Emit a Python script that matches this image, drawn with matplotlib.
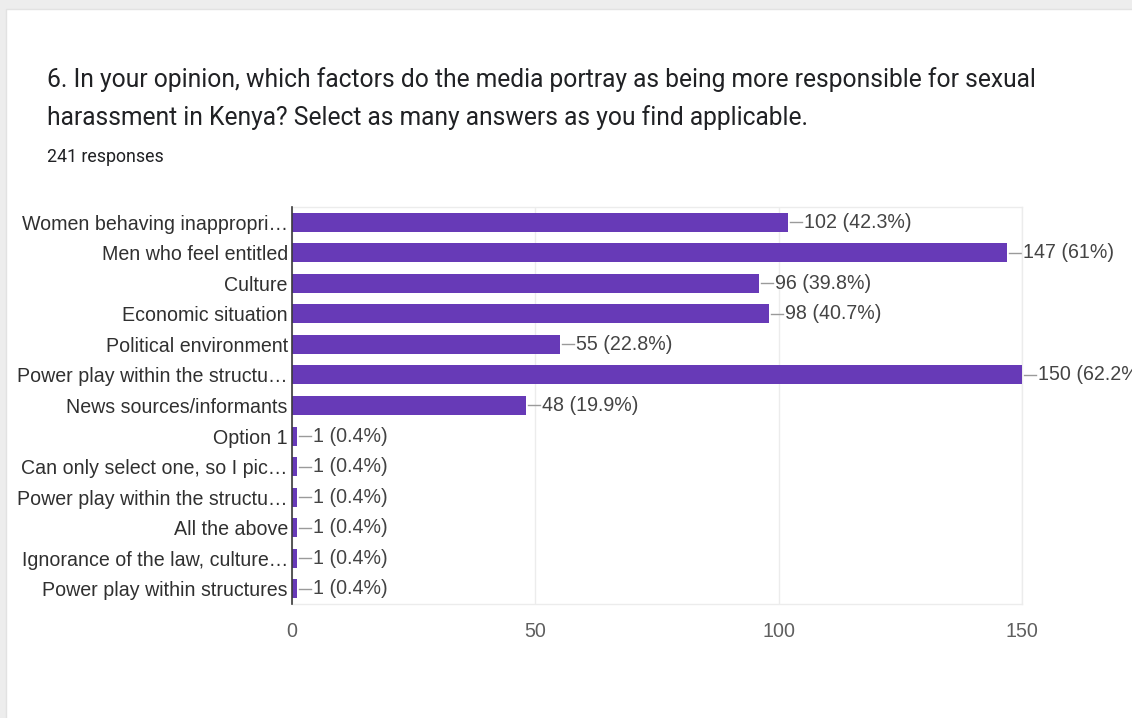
import matplotlib
matplotlib.use("Agg")
import matplotlib.pyplot as plt
from matplotlib.patches import Rectangle

# Survey answers (truncated as displayed) and response counts
categories = [
    "Women behaving inappropri\u2026",
    "Men who feel entitled",
    "Culture",
    "Economic situation",
    "Political environment",
    "Power play within the structu\u2026",
    "News sources/informants",
    "Option 1",
    "Can only select one, so I pic\u2026",
    "Power play within the structu\u2026",
    "All the above",
    "Ignorance of the law, culture\u2026",
    "Power play within structures",
]
counts = [102, 147, 96, 98, 55, 150, 48, 1, 1, 1, 1, 1, 1]
total_responses = 241
x_ticks = [0, 50, 100, 150]

title_lines = [
    "6. In your opinion, which factors do the media portray as being more responsible for sexual",
    "harassment in Kenya? Select as many answers as you find applicable.",
]
subtitle = f"{total_responses} responses"

W, H = 1132, 718
fig = plt.figure(figsize=(W / 100, H / 100), dpi=100)
fig.patch.set_facecolor("#ededed")

# white card behind everything
card = Rectangle((6 / W, -0.01), 1, 1.01 - 9 / H, transform=fig.transFigure,
                 facecolor="white", edgecolor="#e2e2e2", linewidth=1, zorder=-10)
fig.patches.append(card)


def fx(px):
    return px / W


def fy(py):
    return 1 - py / H


fig.text(fx(47), fy(80), title_lines[0], family="Roboto", fontsize=17.7,
         color="#202124", va="center", ha="left")
fig.text(fx(47), fy(118), title_lines[1], family="Roboto", fontsize=17.7,
         color="#202124", va="center", ha="left")
fig.text(fx(47), fy(157), subtitle, family="Roboto", fontsize=12.8,
         color="#202124", va="center", ha="left")

x0_px, x1_px = 292, 1022
ax = fig.add_axes([fx(x0_px), fy(604), (x1_px - x0_px) / W, (604 - 207) / H])
ax.set_facecolor("white")

purple = "#673ab7"
ypos = list(range(len(categories)))
ax.barh(ypos, counts, height=0.62, color=purple, zorder=3)

ax.set_xlim(0, 150)
ax.set_ylim(len(categories) - 0.5, -0.5)
ax.set_xticks(x_ticks)
ax.set_xticklabels([str(t) for t in x_ticks])
ax.set_yticks(ypos)
ax.set_yticklabels(categories)

label_family = "Liberation Sans"
label_size = 14.1
for lbl in ax.get_yticklabels():
    lbl.set_family(label_family)
    lbl.set_fontsize(label_size)
    lbl.set_color("#303030")
for lbl in ax.get_xticklabels():
    lbl.set_family(label_family)
    lbl.set_fontsize(label_size)
    lbl.set_color("#5f5f5f")

ax.tick_params(axis="both", length=0)
ax.tick_params(axis="y", pad=3)
ax.tick_params(axis="x", pad=13)

ax.grid(axis="x", color="#ececec", linewidth=1, zorder=0)
for side in ["top", "bottom", "right"]:
    ax.spines[side].set_color("#ececec")
    ax.spines[side].set_linewidth(1)
ax.spines["left"].set_color("#3a3a3a")
ax.spines["left"].set_linewidth(1.2)
ax.spines["left"].set_zorder(4)

# value annotations with a short stem
px_per_unit = (x1_px - x0_px) / 150
for y, c in zip(ypos, counts):
    pct = f"{100 * c / total_responses:.1f}".rstrip("0").rstrip(".")
    ax.plot([c + 2 / px_per_unit, c + 14 / px_per_unit], [y, y],
            color="#9a9a9a", linewidth=1, zorder=2, clip_on=False)
    ax.annotate(f"{c} ({pct}%)", xy=(c, y), xytext=(16, 0),
                textcoords="offset pixels", va="center", ha="left",
                color="#444444", annotation_clip=False,
                family=label_family, fontsize=label_size)

fig.savefig("out.png", dpi=100)
